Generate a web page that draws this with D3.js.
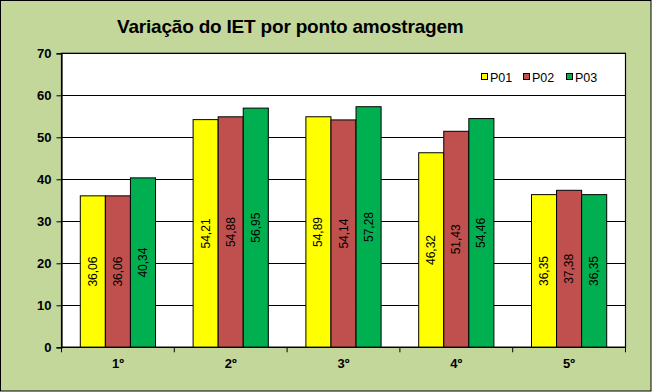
<!DOCTYPE html>
<html><head><meta charset="utf-8">
<script src="https://cdn.jsdelivr.net/npm/d3@7"></script>
<style>body{margin:0;background:#fff}svg{display:block}</style>
</head><body>
<script>
const categories = ["1º","2º","3º","4º","5º"];
const seriesNames = ["P01","P02","P03"];
const P01 = [36.06, 54.21, 54.89, 46.32, 36.35];
const P02 = [36.06, 54.88, 54.14, 51.43, 37.38];
const P03 = [40.34, 56.95, 57.28, 54.46, 36.35];
const yTicks = [0,10,20,30,40,50,60,70];
const colors = ["#FFFF00","#C0504D","#00B050"];
const title = "Variação do IET por ponto amostragem";

const W=652,H=392;
const svg=d3.select("body").append("svg").attr("width",W).attr("height",H);
svg.append("rect").attr("x",0.5).attr("y",0.5).attr("width",W-1.5).attr("height",H-1.5)
  .attr("fill","#C4D79B").attr("stroke","#000").attr("stroke-width",1);

const L=61.5,R=625.5,T=53.3,B=347.3;
svg.append("rect").attr("x",L).attr("y",T).attr("width",R-L).attr("height",B-T).attr("fill","#fff");

const y=d3.scaleLinear().domain([0,70]).range([B,T]);
const x0=d3.scaleBand().domain(categories).range([L,R]).paddingInner(1.5/4.5).paddingOuter(0.75/4.5);
const x1=d3.scaleBand().domain(seriesNames).range([0,x0.bandwidth()]);

// gridlines
svg.append("g").selectAll("line").data(yTicks.filter(t=>t>0)).join("line")
  .attr("x1",L).attr("x2",R).attr("y1",d=>Math.round(y(d))+0.5).attr("y2",d=>Math.round(y(d))+0.5)
  .attr("stroke","#000").attr("stroke-width",1);
// plot border
svg.append("rect").attr("x",L).attr("y",T).attr("width",R-L).attr("height",B-T)
  .attr("fill","none").attr("stroke","#000").attr("stroke-width",1.2);

const data=[P01,P02,P03];
const g=svg.append("g");
categories.forEach((c,i)=>{
  seriesNames.forEach((s,j)=>{
    const v=data[j][i];
    const bx=x0(c)+x1(s), bw=x1.bandwidth();
    g.append("rect").attr("x",bx).attr("y",y(v)).attr("width",bw).attr("height",B-y(v))
      .attr("fill",colors[j]).attr("stroke","#000").attr("stroke-width",1);
    const cx=bx+bw/2, cy=(y(v)+B)/2;
    g.append("text").attr("transform",`translate(${cx+4},${cy}) rotate(-90)`)
      .attr("text-anchor","middle").attr("font-family","Arial, Liberation Sans, sans-serif")
      .attr("font-size",12).attr("fill","#000").text(v.toFixed(2).replace(".",","));
  });
});

// y axis
const ya=svg.append("g").attr("transform",`translate(${L},0)`)
  .call(d3.axisLeft(y).tickValues(yTicks).tickSize(5).tickPadding(5).tickFormat(d3.format("d")));
ya.select(".domain").attr("stroke","#000").attr("stroke-width",1.2);
ya.selectAll(".tick line").attr("stroke","#000");
ya.selectAll("text").attr("font-family","Arial, Liberation Sans, sans-serif").attr("font-size",13)
  .attr("font-weight","bold").attr("fill","#000");

// x axis
const xa=svg.append("g").attr("transform",`translate(0,${B})`);
xa.append("line").attr("x1",L).attr("x2",R).attr("y1",0).attr("y2",0).attr("stroke","#000").attr("stroke-width",1.2);
const bounds=categories.map(c=>x0(c)-x0.step()*x0.paddingInner()/2).concat([R]);
xa.selectAll("line.t").data(bounds).join("line").attr("class","t")
  .attr("x1",d=>d).attr("x2",d=>d).attr("y1",0).attr("y2",5).attr("stroke","#000");
xa.selectAll("text").data(categories).join("text")
  .attr("x",d=>x0(d)+x0.bandwidth()/2).attr("y",21).attr("text-anchor","middle")
  .attr("font-family","Arial, Liberation Sans, sans-serif").attr("font-size",13).attr("font-weight","bold")
  .text(d=>d);

// title
svg.append("text").attr("x",117).attr("y",32.5).attr("font-family","Arial, Liberation Sans, sans-serif")
  .attr("font-size",19).attr("font-weight","bold").attr("letter-spacing",-0.2).attr("fill","#000").text(title);

// legend
const lg=svg.append("g");
const lx=[481,523,566];
seriesNames.forEach((s,j)=>{
  lg.append("rect").attr("x",lx[j]+0.5).attr("y",73.5).attr("width",6).attr("height",6)
    .attr("fill",colors[j]).attr("stroke","#000");
  lg.append("text").attr("x",lx[j]+9).attr("y",81.5).attr("font-family","Arial, Liberation Sans, sans-serif")
    .attr("font-size",12.5).attr("fill","#000").text(s);
});
</script>
</body></html>
